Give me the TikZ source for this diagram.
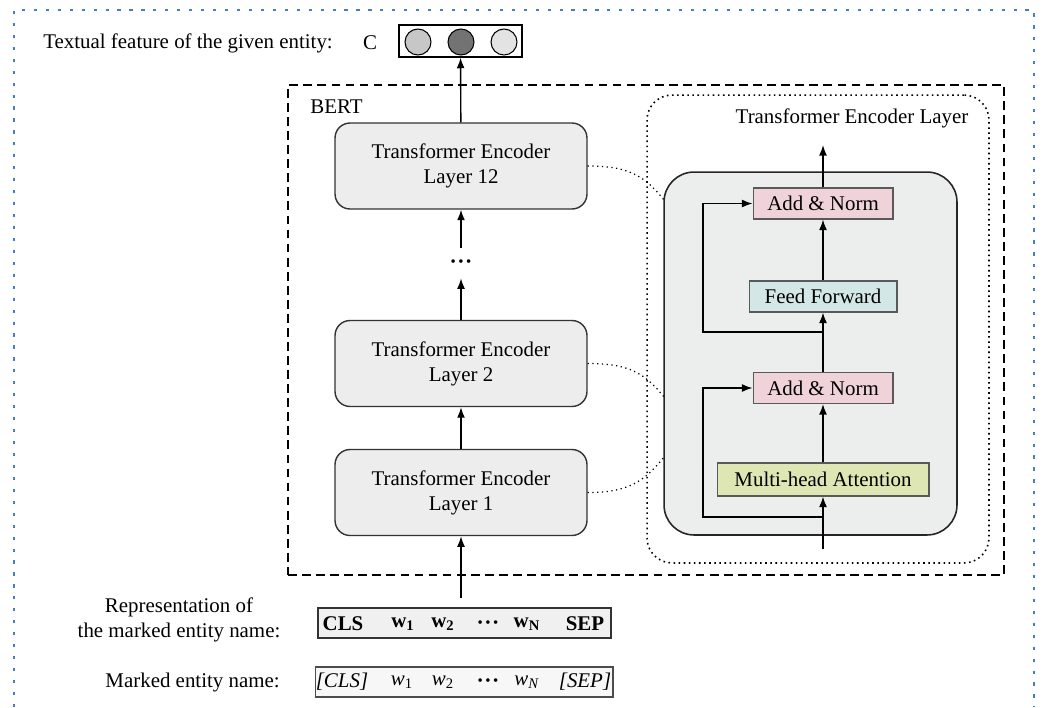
\documentclass[tikz,border=0pt]{standalone}
\usepackage{fontspec}
\setmainfont{Liberation Serif}
\usetikzlibrary{arrows,arrows.meta,positioning}

\definecolor{frameblue}{RGB}{70,125,195}
\definecolor{normpink}{RGB}{240,211,216}
\definecolor{ffcyan}{RGB}{211,232,230}
\definecolor{attgreen}{RGB}{222,230,180}
\definecolor{encgray}{RGB}{236,238,238}

\newcommand{\tokdots}{{\fontsize{8.5}{8.5}\selectfont\textbullet\,\textbullet\,\textbullet}}

\tikzset{
  layerbox/.style={rectangle,rounded corners=0.3cm,draw=black!80,fill=black!7,line width=0.8pt,
    minimum width=5.04cm,minimum height=1.72cm,align=center,inner sep=0pt},
  subbox/.style={rectangle,draw=black!65,line width=0.6pt,minimum height=0.62cm,inner sep=0pt},
  flow/.style={-{Latex[length=6pt,width=4.5pt]},line width=0.8pt},
  link/.style={dotted,line width=0.7pt},
  token/.style={inner sep=0pt}
}

\begin{document}
\begin{tikzpicture}[x=0.02cm,y=-0.02cm,font=\fontsize{11.9}{14.2}\selectfont]
\useasboundingbox (0,0) rectangle (1043,707);
% outer frame, open at the bottom
\draw[frameblue,line width=1.4pt,dash pattern=on 1.8pt off 5pt] (14,707) -- (14,10) -- (1034,10) -- (1034,707);

% output feature
\node (feat) at (43,43) [anchor=west,inner sep=0pt] {Textual feature of the given entity:};
\node (clabel) at (370,43) {C};
\node (vec) at (460.5,41) [rectangle,draw,line width=0.8pt,minimum width=2.46cm,minimum height=0.64cm] {};
\node (cone) at (418,42) [circle,draw,fill=black!22,line width=0.6pt,minimum size=0.52cm,inner sep=0pt] {};
\node (ctwo) at (461,42) [circle,draw,fill=black!55,line width=0.6pt,minimum size=0.52cm,inner sep=0pt] {};
\node (cthree) at (504,42) [circle,draw,fill=black!11,line width=0.6pt,minimum size=0.52cm,inner sep=0pt] {};

% BERT
\node (bert) at (646,330) [rectangle,draw,line width=1pt,dash pattern=on 5pt off 3pt,minimum width=14.32cm,minimum height=9.8cm] {};
\node (bertlabel) at (310,107) [anchor=west,inner sep=0pt] {BERT};
\node (l12) at (461,166) [layerbox] {Transformer Encoder\\Layer 12};
\node (ldots) at (461,263) [token,minimum height=0.6cm] {\tokdots};
\node (l2) at (461,363.5) [layerbox] {Transformer Encoder\\Layer 2};
\node (l1) at (461,492.5) [layerbox] {Transformer Encoder\\Layer 1};
\draw[flow] (l1) -- (l2);
\draw[flow] (l2) -- (ldots);
\draw[flow] (ldots) -- (l12);
\draw[flow] (l12) -- (vec);

% one encoder layer
\node (tel) at (818,329) [rectangle,draw,dotted,line width=0.9pt,rounded corners=0.5cm,minimum width=6.84cm,minimum height=9.36cm] {};
\node (teltitle) at (852,118) {Transformer Encoder Layer};
\node (enc) at (810.5,353.5) [rectangle,draw=black!85,fill=encgray,line width=0.9pt,rounded corners=0.6cm,minimum width=5.86cm,minimum height=7.26cm] {};
\node (an2) at (823,203.5) [subbox,fill=normpink,minimum width=2.8cm] {Add \& Norm};
\node (ff) at (823,296.5) [subbox,fill=ffcyan,minimum width=2.96cm] {Feed Forward};
\node (an1) at (823,388) [subbox,fill=normpink,minimum width=2.8cm] {Add \& Norm};
\node (mha) at (823,479.5) [subbox,fill=attgreen,minimum width=4.24cm,minimum height=0.66cm] {Multi-head Attention};
\coordinate (encin) at (823,549);
\coordinate (encout) at (823,145);
\coordinate (resone) at (823,517);
\coordinate (restwo) at (823,332);
\draw[flow] (encin) -- (mha);
\draw[flow] (mha) -- (an1);
\draw[flow] (an1) -- (ff);
\draw[flow] (ff) -- (an2);
\draw[flow] (an2) -- (encout);
\draw[flow] (resone) -- ++(-120,0) |- (an1.west);
\draw[flow] (restwo) -- ++(-120,0) |- (an2.west);

% layers to the expanded view
\coordinate (etwelve) at (664,200);
\coordinate (etwo) at (664,397);
\coordinate (eone) at (664,457);
\draw[link] (l12.east) .. controls +(40,0) and +(-20,-25) .. (etwelve);
\draw[link] (l2.east) .. controls +(40,0) and +(-20,-25) .. (etwo);
\draw[link] (l1.east) .. controls +(40,0) and +(-20,25) .. (eone);

% input rows
\node (replabel) at (179,620) [align=center] {Representation of\\the marked entity name:};
\node (rep) at (464.5,623) [rectangle,draw=black!80,fill=black!6,line width=0.8pt,minimum width=5.86cm,minimum height=0.6cm] {};
\node (rcls) at (343,624) [token] {\textbf{CLS}};
\node (rwone) at (403,624) [token] {\textbf{w}\textsubscript{\textbf{1}}};
\node (rwtwo) at (443,624) [token] {\textbf{w}\textsubscript{\textbf{2}}};
\node (rdots) at (488,624) [token] {\tokdots};
\node (rwn) at (527,624) [token] {\textbf{w}\textsubscript{\textbf{N}}};
\node (rsep) at (585,624) [token] {\textbf{SEP}};
\coordinate (repout) at (461,598);
\draw[flow] (repout) -- (l1);

\node (marklabel) at (280,682) [anchor=east,inner sep=0pt] {Marked entity name:};
\node (mark) at (464,682) [rectangle,draw=black!70,fill=black!3,line width=0.6pt,minimum width=5.96cm,minimum height=0.6cm] {};
\node (mcls) at (342,682) [token] {\textit{[CLS]}};
\node (mwone) at (402,682) [token] {\textit{w}\textsubscript{1}};
\node (mwtwo) at (443,682) [token] {\textit{w}\textsubscript{2}};
\node (mdots) at (488,682) [token] {\tokdots};
\node (mwn) at (527,682) [token] {\textit{w}\textsubscript{\textit{N}}};
\node (msep) at (585,682) [token] {\textit{[SEP]}};
\end{tikzpicture}
\end{document}
